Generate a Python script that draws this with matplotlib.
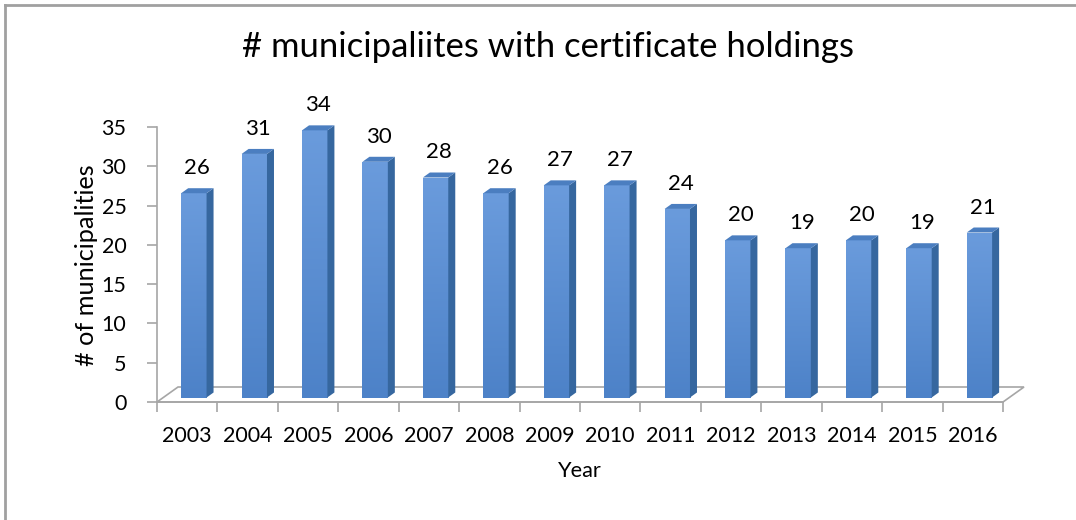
import matplotlib
matplotlib.use("Agg")
import matplotlib.pyplot as plt
from matplotlib.patches import Polygon
import numpy as np

years = ["2003", "2004", "2005", "2006", "2007", "2008", "2009", "2010",
         "2011", "2012", "2013", "2014", "2015", "2016"]
counts = [26, 31, 34, 30, 28, 26, 27, 27, 24, 20, 19, 20, 19, 21]
yticks = [0, 5, 10, 15, 20, 25, 30, 35]
title = "# municipaliites with certificate holdings"
ylabel = "# of municipalities"
xlabel = "Year"

plt.rcParams['font.family'] = ['Lato', 'DejaVu Sans']

W, H, DPI = 1076, 520, 100
fig = plt.figure(figsize=(W / DPI, H / DPI), dpi=DPI)
fig.patch.set_facecolor("white")

# axes placement (pixels)
L, R, T, B = 157, 1003, 127, 402
ax = fig.add_axes([L / W, 1 - B / H, (R - L) / W, (B - T) / H])
n = len(years)
ax.set_xlim(0, n)
ax.set_ylim(0, 35)
ax.set_facecolor("none")

pxx = n / (R - L)          # data units per pixel in x
pxy = 35 / (B - T)         # data units per pixel in y

grey = "#a6a6a6"
# floor
fdx, fdy = 21 * pxx, 15 * pxy
floor = Polygon([(0, 0), (n, 0), (n + fdx, fdy), (fdx, fdy)], closed=True,
                facecolor="white", edgecolor=grey, lw=1.2, clip_on=False, zorder=1)
ax.add_patch(floor)

# bars
side_c = "#36679f"
top_c = "#4b7ec0"
bw = 0.42
off = 0.40
ddx, ddy = 7 * pxx, 5 * pxy
lift = 4.5 * pxy
for i, v in enumerate(counts):
    x0 = i + off
    x1 = x0 + bw
    y0 = lift
    y1 = v + lift
    grad = np.linspace(0, 1, 64).reshape(-1, 1)
    c_top = np.array(matplotlib.colors.to_rgb("#6a9bdc"))
    c_bot = np.array(matplotlib.colors.to_rgb("#4d82c8"))
    img = c_bot[None, None, :] * (1 - grad[:, :, None]) + c_top[None, None, :] * grad[:, :, None]
    ax.imshow(img, extent=(x0, x1, y0, y1), origin="lower", aspect="auto",
              zorder=3, clip_on=False, interpolation="bilinear")
    ax.add_patch(Polygon([(x1, y0), (x1 + ddx, y0 + ddy), (x1 + ddx, y1 + ddy), (x1, y1)],
                         closed=True, facecolor=side_c, edgecolor="none", zorder=3, clip_on=False))
    ax.add_patch(Polygon([(x0, y1), (x1, y1), (x1 + ddx, y1 + ddy), (x0 + ddx, y1 + ddy)],
                         closed=True, facecolor=top_c, edgecolor="none", zorder=3, clip_on=False))
    ax.text(x0 + bw / 2 + ddx / 2, y1 + ddy + 20 * pxy, str(v), ha="center", va="center",
            fontsize=16, color="black", zorder=4)

ax.set_xlim(0, n)
ax.set_ylim(0, 35)

for s in ["top", "right"]:
    ax.spines[s].set_visible(False)
ax.spines["left"].set_color(grey)
ax.spines["bottom"].set_color(grey)
ax.spines["left"].set_linewidth(1.2)
ax.spines["bottom"].set_linewidth(1.2)
ax.spines["left"].set_zorder(2)

ax.set_yticks(yticks)
ax.set_yticklabels([str(t) for t in yticks])
ax.tick_params(axis="y", direction="out", length=7, width=1.2, color=grey,
               labelsize=15.5, pad=15, labelcolor="black")
ax.set_xticks(np.arange(0, n + 1))
ax.set_xticklabels([])
ax.set_xticks(np.arange(n) + 0.5, minor=True)
ax.set_xticklabels(years, minor=True)
ax.tick_params(axis="x", which="major", direction="out", length=7, width=1.2, color=grey)
ax.tick_params(axis="x", which="minor", length=0, labelsize=15.5, pad=17, labelcolor="black")

t_y = fig.text(86 / W, 1 - 265 / H, ylabel, rotation=90, ha="center", va="center",
               fontsize=15, color="black")
t_x = fig.text(580 / W, 1 - 471 / H, xlabel, ha="center", va="center", fontsize=15, color="black")
t_t = fig.text(548 / W, 1 - 47 / H, title, ha="center", va="center", fontsize=22, color="black")

# fit text sizes to the measured extents of the reference
fig.canvas.draw()
rend = fig.canvas.get_renderer()
for t, target, horiz in [(t_y, 202, False), (t_x, 44, True), (t_t, 610, True)]:
    bb = t.get_window_extent(rend)
    cur = bb.width if horiz else bb.height
    t.set_fontsize(t.get_fontsize() * target / cur)

# chart border (top and left)
fig.add_artist(plt.Line2D([4.5 / W, 1], [1 - 4.5 / H, 1 - 4.5 / H], color="#a0a0a0", lw=2,
                          transform=fig.transFigure))
fig.add_artist(plt.Line2D([4.5 / W, 4.5 / W], [0, 1 - 4.5 / H], color="#a0a0a0", lw=2,
                          transform=fig.transFigure))

fig.savefig("out.png", dpi=DPI)
